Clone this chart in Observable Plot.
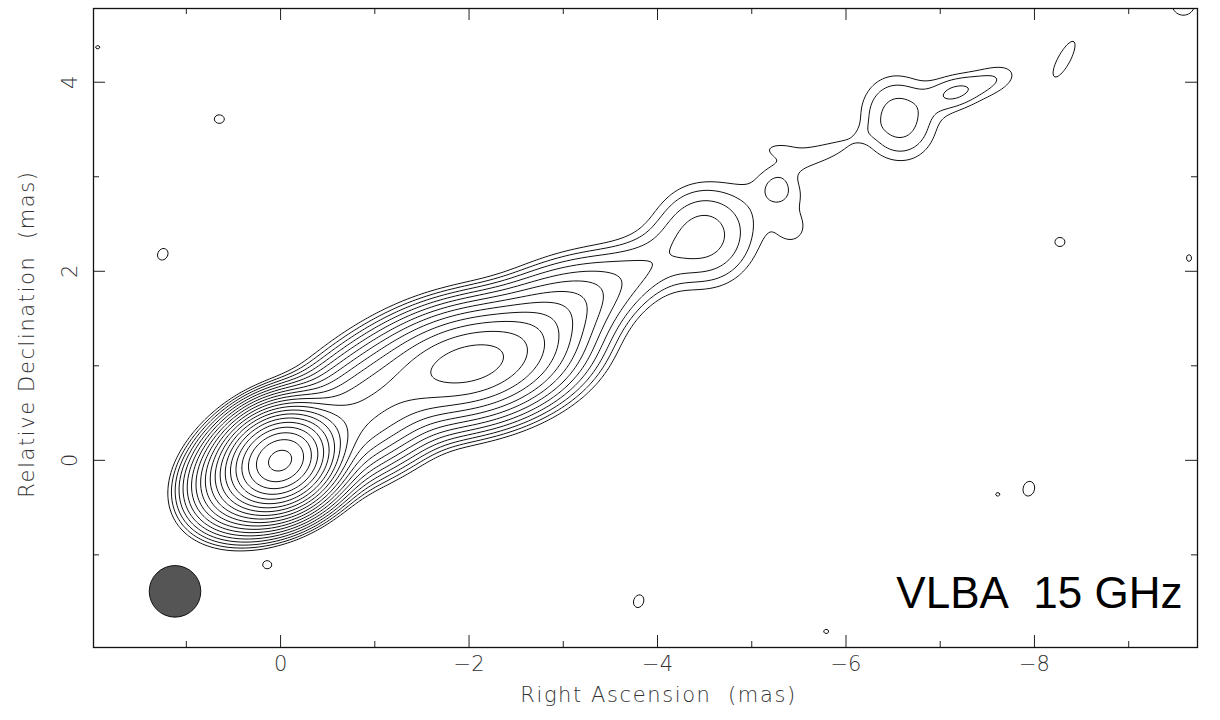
<!DOCTYPE html>
<html><head><meta charset="utf-8">
<script src="https://cdn.jsdelivr.net/npm/d3@7"></script>
<script src="https://cdn.jsdelivr.net/npm/@observablehq/plot@0.6"></script>
<style>
body{margin:0;background:#fff;}
#chart svg{display:block;}
</style>
</head><body><div id="chart"></div>
<script>
// ---- axes / ticks (mas) ----
const xDomain = [1.985, -9.73];
const yDomain = [-1.98, 4.78];
const xMajorTicks = [0, -2, -4, -6, -8];
const xMinorTicks = [1, -1, -3, -5, -7, -9];
const yMajorTicks = [0, 2, 4];
const yMinorTicks = [-1, 1, 3];
const xTitle = "Right Ascension\u00a0\u00a0(mas)";
const yTitle = "Relative Declination\u00a0\u00a0(mas)";
const annotation = ["VLBA\u00a0\u00a015 GHz"];

// ---- contour levels (multiples of the lowest contour, factor sqrt 2) ----
const contourLevels = [1, 1.414, 2, 2.83, 4, 5.66, 8, 11.3, 16, 22.6, 32, 45.3, 64, 90.5, 128, 181, 256, 362, 512, 724];

// ---- brightness components read from the map (x, y in mas; peak in lowest-contour units;
//      sigma along / across major axis in mas; angle of major axis, degrees, screen sense) ----
const compX    = [0,    0.05, -0.9, -2.0, -2.8, -3.4, -3.9, -4.5,  -5.35, -5.27, -5.45, -5.43, -5.82, -6.56, -7.14, -7.55];
const compY    = [0,   -0.03,  0.5,  1.02, 1.5,  1.8,  2.05, 2.38,  2.85,  2.87,  3.3,   2.42,  3.28,  3.62,  3.89,  4.02];
const compPeak = [620,  190,   28,   53,   8,    2.6,  1.2,  3.3,   1.05,  0.55,  0.55,  0.55,  0.8,   2.4,   1.5,   1.35];
const compMaj  = [0.25, 0.38,  0.45, 0.55, 0.45, 0.4,  0.3,  0.36,  0.3,   0.11,  0.4,   0.12,  0.28,  0.3,   0.2,   0.28];
const compMin  = [0.21, 0.25,  0.30, 0.30, 0.28, 0.25, 0.22, 0.36,  0.42,  0.11,  0.1,   0.12,  0.08,  0.34,  0.14,  0.15];
const compPA   = [29,   29,    29,   12,   30,   30,   30,   30,    30,    0,     -5,    0,     25,    15,    15,    20];

// ---- isolated noise peaks ----
const noiseX    = [0.65, 1.25, 0.14, -3.80, -5.79, -7.61, -7.94, -8.27, -9.64, -8.32, -9.58, 1.94];
const noiseY    = [3.61, 2.18, -1.11, -1.49, -1.81, -0.36, -0.30, 2.31, 2.14, 4.25, 4.83, 4.37];
const noisePeak = [1.15, 1.15, 1.15, 1.15, 1.1, 1.1, 1.2, 1.15, 1.1, 1.3, 1.2, 1.1];
const noiseMaj  = [0.10, 0.12, 0.07, 0.13, 0.06, 0.05, 0.13, 0.10, 0.08, 0.28, 0.2, 0.05];
const noiseMin  = [0.085,0.10, 0.06, 0.10, 0.05, 0.04, 0.10, 0.09, 0.06, 0.085, 0.2, 0.04];
const noisePA   = [0, 60, 0, 70, 0, 0, 75, 0, 90, 62, 0, 0];

// ---- restoring beam ----
const beamX = [1.12];
const beamY = [-1.386];
const beamFWHM = [0.547];

function addGauss(s, x, y, X, Y, P, A, B, T) {
  for (let i = 0; i < X.length; i++) {
    const u = -(x - X[i]), v = y - Y[i];
    const t = T[i] * Math.PI / 180, c = Math.cos(t), sn = Math.sin(t);
    const a = u * c + v * sn, b = -u * sn + v * c;
    s += P[i] * Math.exp(-0.5 * (a * a / (A[i] * A[i]) + b * b / (B[i] * B[i])));
  }
  return s;
}
function intensity(x, y) {
  let s = addGauss(0, x, y, compX, compY, compPeak, compMaj, compMin, compPA);
  return addGauss(s, x, y, noiseX, noiseY, noisePeak, noiseMaj, noiseMin, noisePA);
}

const W = 1220, H = 720, mL = 93, mR = 23, mT = 8, mB = 73;
const plotW = W - mL - mR, plotH = H - mT - mB;
const pxPerMas = plotW / Math.abs(xDomain[1] - xDomain[0]);
const beam = beamX.map((x, i) => ({x, y: beamY[i], r: beamFWHM[i] / 2 * pxPerMas}));
const fmt = d => d === 0 ? "0" : (d < 0 ? "\u2212" : "") + Math.abs(d);
const labelFont = "DejaVu Sans";
const lab = {fontSize: 21, fill: "#333", fontWeight: 300, textAnchor: "middle"};

const chart = Plot.plot({
  width: W, height: H,
  marginLeft: mL, marginRight: mR, marginTop: mT, marginBottom: mB,
  x: {domain: xDomain, axis: null},
  y: {domain: yDomain, axis: null},
  r: {type: "identity"},
  style: {background: "#fff", fontFamily: labelFont, overflow: "visible"},
  marks: [
    Plot.contour({value: intensity, x1: xDomain[0], x2: xDomain[1], y1: yDomain[0], y2: yDomain[1],
      thresholds: contourLevels, pixelSize: 1, fill: "none", stroke: "#111", strokeWidth: 1}),
    Plot.dot(beam, {x: "x", y: "y", r: "r", fill: "#555", stroke: "#111", strokeWidth: 1}),
    // inward ticks on all four sides
    Plot.ruleX(xMajorTicks, {x: d => d, insetTop: plotH - 12, stroke: "#222"}),
    Plot.ruleX(xMajorTicks, {x: d => d, insetBottom: plotH - 12, stroke: "#222"}),
    Plot.ruleX(xMinorTicks, {x: d => d, insetTop: plotH - 6, stroke: "#222"}),
    Plot.ruleX(xMinorTicks, {x: d => d, insetBottom: plotH - 6, stroke: "#222"}),
    Plot.ruleY(yMajorTicks, {y: d => d, insetRight: plotW - 12, stroke: "#222"}),
    Plot.ruleY(yMajorTicks, {y: d => d, insetLeft: plotW - 12, stroke: "#222"}),
    Plot.ruleY(yMinorTicks, {y: d => d, insetRight: plotW - 6, stroke: "#222"}),
    Plot.ruleY(yMinorTicks, {y: d => d, insetLeft: plotW - 6, stroke: "#222"}),
    Plot.frame({stroke: "#111", strokeWidth: 1.3}),
    // tick labels
    Plot.text(xMajorTicks, {x: d => d, frameAnchor: "bottom", dy: 23, text: fmt, ...lab}),
    Plot.text(yMajorTicks, {y: d => d, frameAnchor: "left", dx: -23, rotate: -90, text: fmt, ...lab}),
    // axis titles
    Plot.text([xTitle], {frameAnchor: "bottom", dx: 13, dy: 54, text: d => d, ...lab}),
    Plot.text([yTitle], {frameAnchor: "left", dx: -66, dy: 6, rotate: -90, text: d => d, ...lab}),
    // annotation
    Plot.text(annotation, {frameAnchor: "bottom-right", dx: -15, dy: -40, textAnchor: "end", text: d => d,
      fontSize: 44, fill: "#000", fontFamily: "Liberation Sans"})
  ]
});
// wider letter spacing for the axis titles (PGPLOT-like lettering)
d3.select(chart).selectAll("text")
  .filter(function() { return this.textContent === xTitle || this.textContent === yTitle; })
  .style("letter-spacing", "1.6px");
document.getElementById("chart").appendChild(chart);
</script>
</body></html>
